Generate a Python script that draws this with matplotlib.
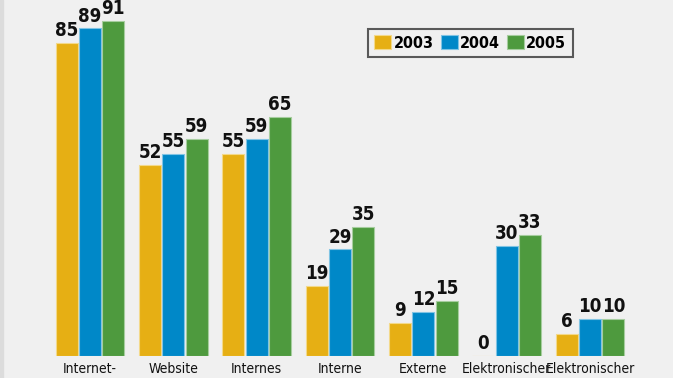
import matplotlib.pyplot as plt
import numpy as np

categories = ['Internet-', 'Website', 'Internes', 'Interne', 'Externe',
              'Elektronischer', 'Elektronischer']
years = ['2003', '2004', '2005']
v2003 = [85, 52, 55, 19, 9, 0, 6]
v2004 = [89, 55, 59, 29, 12, 30, 10]
v2005 = [91, 59, 65, 35, 15, 33, 10]

colors = ['#E6AF14', '#0088C8', '#4E9A3E']
edges = ['#F3D98A', '#80C4E4', '#A6CD9E']
bg = '#F0F0F0'

plt.rcParams['font.family'] = ['DejaVu Sans']
plt.rcParams['font.stretch'] = 'condensed'

fig = plt.figure(figsize=(6.73, 3.78), dpi=100, facecolor=bg)
ax = fig.add_axes([0, 22 / 378, 1, 356 / 378])
ax.set_facecolor('none')

x = np.arange(len(categories))
w = 0.264
step = 0.28
for k, vals in enumerate([v2003, v2004, v2005]):
    bars = ax.bar(x + (k - 1) * step, vals, w, color=colors[k],
                  edgecolor=edges[k], linewidth=0.8, label=years[k])
    ax.bar_label(bars, labels=[str(v) for v in vals], padding=2,
                 fontsize=13.5, fontweight='bold', color='#111111',
                 fontstretch='condensed')

ax.set_xlim(-90 / 83.33, (673 - 90) / 83.33)
ax.set_ylim(0, 356 / 3.68)
ax.set_xticks(x)
ax.set_xticklabels(categories, fontsize=10, color='#111111',
                   fontstretch='condensed')
ax.tick_params(axis='x', length=0, pad=4)
ax.set_yticks([])
for s in ax.spines.values():
    s.set_visible(False)

leg = fig.legend(loc='upper left', bbox_to_anchor=(368 / 673, 1 - 29 / 378),
                 borderaxespad=0, ncol=3, frameon=True, fancybox=False,
                 edgecolor='#333333', facecolor=bg,
                 handlelength=1.05, handleheight=0.95,
                 handletextpad=0.15, columnspacing=0.45, borderpad=0.4,
                 prop={'size': 11.5, 'weight': 'bold', 'stretch': 'condensed'})
leg.get_frame().set_linewidth(1.5)

fig.patches.append(plt.Rectangle((0, 0), 3 / 673, 1, transform=fig.transFigure,
                                 color='#DCDCDC', zorder=-1))

fig.savefig('out.png', dpi=100, facecolor=bg)
